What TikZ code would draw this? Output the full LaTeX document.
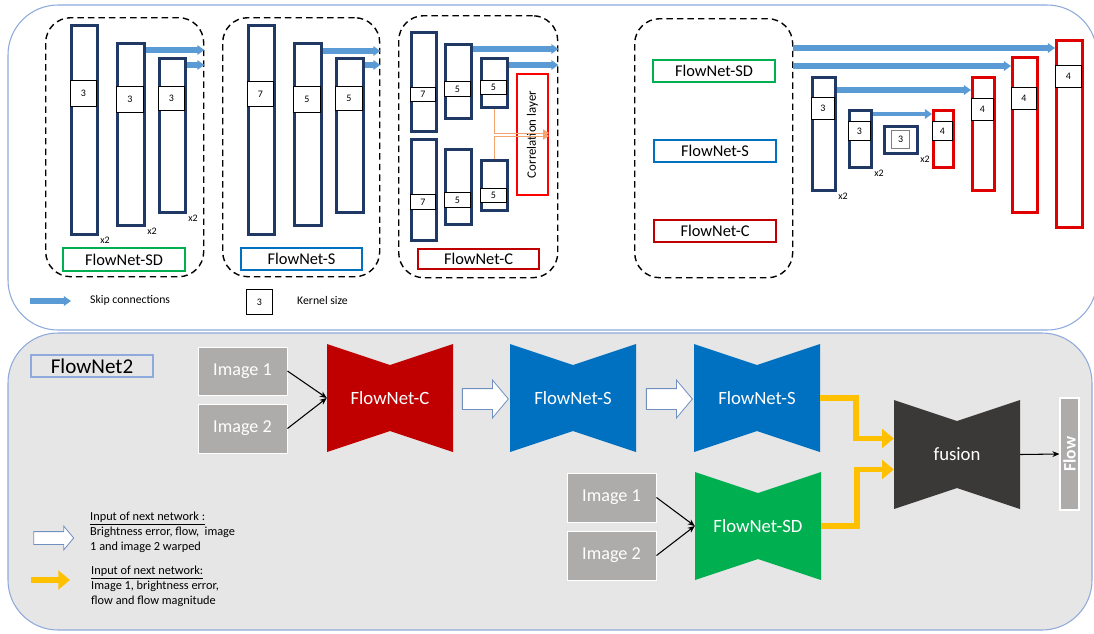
\documentclass[tikz,border=0pt]{standalone}
\usepackage{fontspec}
\setmainfont{Carlito}
\setsansfont{Carlito}
\definecolor{netnavy}{HTML}{1F3864}
\definecolor{netred}{HTML}{C00000}
\definecolor{decred}{HTML}{E00000}
\definecolor{corrred}{HTML}{FF0000}
\definecolor{netblue}{HTML}{0070C0}
\definecolor{netgreen}{HTML}{00B050}
\definecolor{skipblue}{HTML}{5B9BD5}
\definecolor{panelline}{HTML}{8EA9DB}
\definecolor{arrowedge}{HTML}{7090C0}
\definecolor{panelgray}{HTML}{E7E6E6}
\definecolor{imagegray}{HTML}{AEABAB}
\definecolor{fusegray}{HTML}{3B3838}
\definecolor{fuseyellow}{HTML}{FFC000}
\definecolor{corrorange}{HTML}{F4A46E}
\usetikzlibrary{arrows.meta,positioning,shapes.arrows,calc}
\newlength{\px}
\setlength{\px}{0.03cm}
\tikzset{
    panel/.style={
        draw=panelline,
        line width=0.9pt,
        rounded corners=1.5cm
    },
    netframe/.style={
        draw=black,
        dash pattern=on 5.5pt off 3.5pt,
        line width=1.2pt,
        rounded corners=0.75cm,
        anchor=north west,
        inner sep=0pt
    },
    encbar/.style={
        draw=netnavy,
        fill=white,
        line width=2.5pt,
        anchor=north west,
        inner sep=0pt
    },
    decbar/.style={
        encbar,
        draw=decred
    },
    kernel/.style={
        draw=black,
        fill=white,
        line width=0.6pt,
        anchor=north west,
        inner sep=0pt,
        font=\fontsize{8.5}{10}\selectfont
    },
    timestwo/.style={
        anchor=north west,
        inner sep=1pt,
        font=\fontsize{8.5}{10}\selectfont
    },
    netlabel/.style={
        draw=#1,
        fill=white,
        line width=1.8pt,
        anchor=north west,
        inner sep=0pt,
        font=\fontsize{14}{16}\selectfont
    },
    skiparrow/.style={
        -{Triangle[length=6pt,width=8pt]},
        draw=skipblue,
        line width=4.5pt
    },
    corrarrow/.style={
        -{Triangle[length=5pt,width=6pt]},
        draw=corrorange,
        line width=0.8pt
    },
    legendtext/.style={
        anchor=west,
        inner sep=0pt,
        font=\fontsize{10}{12}\selectfont
    },
    legendnote/.style={
        anchor=west,
        align=left,
        inner sep=0pt,
        font=\fontsize{10.5}{12.8}\selectfont
    },
    imagebox/.style={
        draw=white,
        fill=imagegray,
        line width=0.8pt,
        text=white,
        minimum width=89\px,
        minimum height=48\px,
        inner sep=0pt,
        font=\fontsize{15.5}{18}\selectfont
    },
    bowtie/.style={
        fill=panelgray,
        minimum width=126\px,
        minimum height=108\px,
        inner sep=0pt,
        text=white,
        font=\fontsize{16}{19}\selectfont,
        path picture={
            \fill[#1] (path picture bounding box.north west)
                -- ($(path picture bounding box.north)+(0,21)$)
                -- (path picture bounding box.north east)
                -- (path picture bounding box.south east)
                -- ($(path picture bounding box.south)+(0,-21)$)
                -- (path picture bounding box.south west) -- cycle;
        }
    },
    whitearrow/.style={
        single arrow,
        draw=arrowedge,
        fill=white,
        line width=0.7pt,
        inner xsep=0pt,
        inner ysep=10\px,
        single arrow head extend=8.5\px,
        single arrow tip angle=100
    },
    fusearrow/.style={
        -{Triangle[length=10pt,width=16pt]},
        draw=fuseyellow,
        line width=5pt
    },
    imgarrow/.style={
        -{Stealth[length=6pt,width=5pt]},
        draw=black,
        line width=0.9pt
    }
}
\begin{document}
\begin{tikzpicture}[x=0.03cm,y=-0.03cm]
    \useasboundingbox (0,0) rectangle (1094,633);

    % panels
    \draw[panel] (8,5) rectangle (1097,330);
    \draw[panel,fill=panelgray] (8,333) rectangle (1092,630);

    % FlowNet-SD encoder
    \node[netframe,minimum width=158\px,minimum height=259\px] (sdframe) at (45,17) {};
    \node[encbar,minimum width=26\px,minimum height=209\px] (sd1) at (70,24) {};
    \node[encbar,minimum width=27\px,minimum height=182\px] (sd2) at (116,42) {};
    \node[encbar,minimum width=26\px,minimum height=154\px] (sd3) at (158,57) {};
    \node[kernel,minimum width=26\px,minimum height=26\px] (sd1k) at (70,80) {3};
    \node[kernel,minimum width=27\px,minimum height=26\px] (sd2k) at (116,86) {3};
    \node[kernel,minimum width=26\px,minimum height=24\px] (sd3k) at (158,86) {3};
    \node[timestwo] (sd1x) at (sd1.south east) {x2};
    \node[timestwo] (sd2x) at (sd2.south east) {x2};
    \node[timestwo] (sd3x) at (sd3.south east) {x2};
    \node[netlabel=netgreen,minimum width=122\px,minimum height=23\px] (sdlabel) at (62,247) {FlowNet-SD};
    \draw[skiparrow] ($(sd2.north east)+(0,8)$) -- ($(sdframe.east |- sd2.north)+(0,8)$);
    \draw[skiparrow] ($(sd3.north east)+(0,8)$) -- ($(sdframe.east |- sd3.north)+(0,8)$);

    % FlowNet-S encoder
    \node[netframe,minimum width=157\px,minimum height=259\px] (sframe) at (222,17) {};
    \node[encbar,minimum width=26\px,minimum height=209\px] (s1) at (247,24) {};
    \node[encbar,minimum width=27\px,minimum height=182\px] (s2) at (293,42) {};
    \node[encbar,minimum width=27\px,minimum height=154\px] (s3) at (335,57) {};
    \node[kernel,minimum width=26\px,minimum height=25\px] (s1k) at (247,81) {7};
    \node[kernel,minimum width=27\px,minimum height=26\px] (s2k) at (293,86) {5};
    \node[kernel,minimum width=27\px,minimum height=24\px] (s3k) at (335,86) {5};
    \node[netlabel=netblue,minimum width=121\px,minimum height=22\px] (slabel) at (240,247) {FlowNet-S};
    \draw[skiparrow] ($(s2.north east)+(0,9)$) -- ($(sframe.east |- s2.north)+(0,9)$);
    \draw[skiparrow] ($(s3.north east)+(0,8)$) -- ($(sframe.east |- s3.north)+(0,8)$);

    % FlowNet-C encoder
    \node[netframe,minimum width=159\px,minimum height=262\px] (cframe) at (398,15) {};
    \node[encbar,minimum width=25\px,minimum height=99\px] (ca1) at (410,31) {};
    \node[encbar,minimum width=26\px,minimum height=74\px] (cb1) at (444,43) {};
    \node[encbar,minimum width=26\px,minimum height=49\px] (cc1) at (480,57) {};
    \node[encbar,minimum width=25\px,minimum height=101\px] (ca2) at (410,138) {};
    \node[encbar,minimum width=26\px,minimum height=75\px] (cb2) at (444,148) {};
    \node[encbar,minimum width=26\px,minimum height=50\px] (cc2) at (480,159) {};
    \node[kernel,minimum width=25\px,minimum height=14\px] (ca1k) at (410,87) {7};
    \node[kernel,minimum width=26\px,minimum height=15\px] (cb1k) at (444,81) {5};
    \node[kernel,minimum width=26\px,minimum height=14\px] (cc1k) at (480,80) {5};
    \node[kernel,minimum width=25\px,minimum height=15\px] (ca2k) at (410,194) {7};
    \node[kernel,minimum width=26\px,minimum height=15\px] (cb2k) at (444,192) {5};
    \node[kernel,minimum width=26\px,minimum height=14\px] (cc2k) at (480,188) {5};
    \node[draw=corrred,line width=1.8pt,rotate=90,minimum width=121\px,minimum height=31\px,
          inner sep=0pt,font=\fontsize{11}{13}\selectfont] (corr) at (532.5,134.5) {Correlation layer};
    \draw[corrarrow] (cc1.south) |- ($(corr.south)+(0,-1.5)$);
    \draw[corrarrow] (cc2.north) |- ($(corr.south)+(0,1.5)$);
    \node[netlabel=netred,minimum width=121\px,minimum height=20\px] (clabel) at (417,248) {FlowNet-C};
    \draw[skiparrow] ($(cb1.north east)+(0,6)$) -- ($(cframe.east |- cb1.north)+(0,6)$);
    \draw[skiparrow] ($(cc1.north east)+(0,8)$) -- ($(cframe.east |- cc1.north)+(0,8)$);

    % shared decoder
    \node[netframe,minimum width=158\px,minimum height=259\px] (encframe) at (634,18) {};
    \node[netlabel=netgreen,minimum width=122\px,minimum height=22\px] (encsd) at (652,59) {FlowNet-SD};
    \node[netlabel=netblue,minimum width=122\px,minimum height=22\px] (encs) at (653,139) {FlowNet-S};
    \node[netlabel=netred,minimum width=122\px,minimum height=22\px] (encc) at (653,219) {FlowNet-C};
    \node[encbar,minimum width=23\px,minimum height=113\px] (e1) at (811,76) {};
    \node[encbar,minimum width=22\px,minimum height=57\px] (e2) at (848,109) {};
    \node[encbar,minimum width=33\px,minimum height=27\px] (e3) at (883,125) {};
    \node[kernel,minimum width=23\px,minimum height=22\px] (e1k) at (811,97) {3};
    \node[kernel,minimum width=22\px,minimum height=19\px] (e2k) at (848,121) {3};
    \node[kernel,draw=gray,line width=1pt,minimum width=18\px,minimum height=18\px] (e3k) at (891,130) {3};
    \node[timestwo] (e1x) at (e1.south east) {x2};
    \node[timestwo] (e2x) at (e2.south east) {x2};
    \node[timestwo] (e3x) at (e3.south east) {x2};
    \node[decbar,minimum width=20\px,minimum height=57\px] (d1) at (932,109) {};
    \node[decbar,minimum width=22\px,minimum height=113\px] (d2) at (971,76) {};
    \node[decbar,minimum width=25\px,minimum height=155\px] (d3) at (1011,56) {};
    \node[decbar,minimum width=26\px,minimum height=187\px] (d4) at (1055,39) {};
    \node[kernel,minimum width=20\px,minimum height=19\px] (d1k) at (932,121) {4};
    \node[kernel,minimum width=22\px,minimum height=22\px] (d2k) at (971,98) {4};
    \node[kernel,minimum width=25\px,minimum height=22\px] (d3k) at (1011,87) {4};
    \node[kernel,minimum width=26\px,minimum height=22\px] (d4k) at (1055,65) {4};
    \draw[skiparrow] ($(encframe.north east)+(0,30)$) -- ($(d4.north west)+(0,9)$);
    \draw[skiparrow] ($(encframe.north east)+(0,48)$) -- ($(d3.north west)+(0,10)$);
    \draw[skiparrow] ($(e1.north east)+(0,14)$) -- ($(d2.north west)+(0,14)$);
    \draw[skiparrow,line width=3pt] ($(e2.north east)+(0,5)$) -- ($(d1.north west)+(0,5)$);

    % legend, top
    \coordinate (skipkey) at (30,301);
    \draw[skiparrow] (skipkey) -- ++(41,0);
    \node[legendtext] (skiptext) at (90,300) {Skip connections};
    \node[kernel,minimum width=26\px,minimum height=25\px] (kernkey) at (246,289) {3};
    \node[legendtext] (kerntext) at (297,300) {Kernel size};

    % FlowNet2 stack
    \node[draw=panelline,line width=1pt,minimum width=122\px,minimum height=22\px,inner sep=0pt,
          font=\fontsize{18}{20}\selectfont] (stacktitle) at (92,366) {FlowNet2};
    \node[imagebox] (imga1) at (242.5,371) {Image 1};
    \node[imagebox,minimum height=49\px] (imga2) at (242.5,428.5) {Image 2};
    \node[bowtie=netred] (netc) at (390,398) {FlowNet-C};
    \node[whitearrow,minimum height=46\px] (pass1) at (481,399) {};
    \node[bowtie=netblue] (nets1) at (573,398) {FlowNet-S};
    \node[whitearrow,minimum height=46\px] (pass2) at (665,399) {};
    \node[bowtie=netblue] (nets2) at (757,398) {FlowNet-S};
    \node[imagebox,minimum height=49\px] (imgb1) at (611.5,497.5) {Image 1};
    \node[imagebox,minimum height=49\px] (imgb2) at (611.5,555.5) {Image 2};
    \node[bowtie=netgreen] (netsd) at (758,526) {FlowNet-SD};
    \node[bowtie=fusegray,minimum height=109\px] (fusion) at (957,454.5) {fusion};
    \node[draw=white,line width=1pt,fill=imagegray,text=white,rotate=90,minimum width=112\px,
          minimum height=19\px,inner sep=0pt,font=\bfseries\fontsize{15}{17}\selectfont] (flow) at (1069.5,454) {Flow};

    \draw[imgarrow] (imga1.east) -- (netc.west);
    \draw[imgarrow] (imga2.east) -- (netc.west);
    \draw[imgarrow] (imgb1.east) -- (netsd.west);
    \draw[imgarrow] (imgb2.east) -- (netsd.west);
    \draw[fusearrow] (nets2.east) -- ++(36,0) |- ($(fusion.west)+(0,-16)$);
    \draw[fusearrow] (netsd.east) -- ++(36,0) |- ($(fusion.west)+(0,15)$);
    \draw[imgarrow] (fusion.east) -- (flow.north);

    % legend, bottom
    \node[whitearrow,minimum height=40\px,inner ysep=6\px,single arrow head extend=5.5\px] (passkey) at (51,538) {};
    \node[legendnote] (passnote) at (90,532) {\underline{Input of next network :}\\Brightness error, flow,\ \ image\\1 and image 2 warped};
    \coordinate (fusekey) at (31,580);
    \draw[fusearrow,line width=4.5pt] (fusekey) -- ++(39,0);
    \node[legendnote] (fusenote) at (91,586) {\underline{Input of next network:}\\Image 1, brightness error,\\flow and flow magnitude};
\end{tikzpicture}
\end{document}
